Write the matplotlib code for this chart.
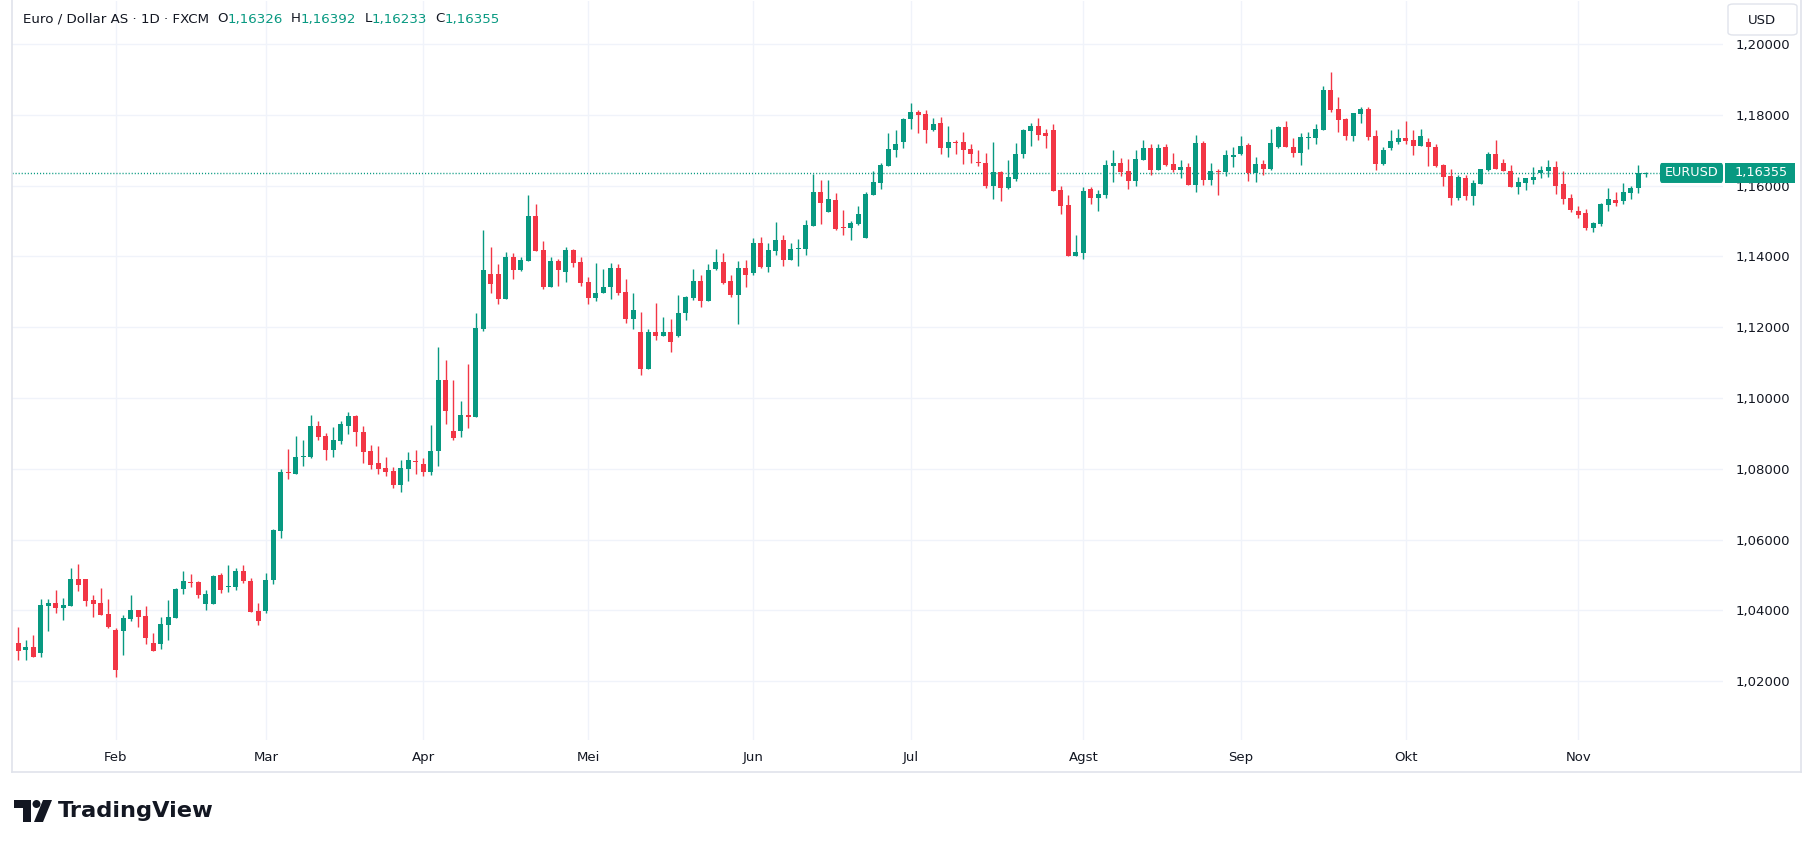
import matplotlib
matplotlib.use("Agg")
import matplotlib.pyplot as plt
import matplotlib.patches as mpatches
from matplotlib.transforms import blended_transform_factory
import numpy as np

# EUR/USD harian (FXCM), 15 Jan - 14 Nov 2025
opens = [1.0307, 1.0287, 1.0297, 1.0278, 1.0412, 1.0422, 1.0407, 1.0412, 1.0489, 1.0489,
         1.0428, 1.0420, 1.0389, 1.0344, 1.0342, 1.0376, 1.0400, 1.0383, 1.0308, 1.0306,
         1.0359, 1.0378, 1.0460, 1.0481, 1.0481, 1.0418, 1.0418, 1.0501, 1.0467, 1.0465,
         1.0511, 1.0483, 1.0398, 1.0399, 1.0485, 1.0624, 1.0791, 1.0786, 1.0832, 1.0834,
         1.0922, 1.0891, 1.0852, 1.0877, 1.0922, 1.0948, 1.0905, 1.0851, 1.0817, 1.0803,
         1.0794, 1.0754, 1.0800, 1.0820, 1.0814, 1.0792, 1.0849, 1.1052, 1.0907, 1.0906,
         1.0953, 1.0945, 1.1196, 1.1351, 1.1351, 1.1279, 1.1399, 1.1360, 1.1388, 1.1515,
         1.1419, 1.1312, 1.1388, 1.1357, 1.1419, 1.1385, 1.1328, 1.1283, 1.1297, 1.1312,
         1.1368, 1.1300, 1.1224, 1.1185, 1.1081, 1.1185, 1.1174, 1.1185, 1.1176, 1.1239,
         1.1281, 1.1329, 1.1275, 1.1363, 1.1383, 1.1329, 1.1290, 1.1366, 1.1352, 1.1439,
         1.1369, 1.1414, 1.1445, 1.1391, 1.1420, 1.1420, 1.1485, 1.1581, 1.1524, 1.1560,
         1.1481, 1.1479, 1.1492, 1.1452, 1.1574, 1.1608, 1.1656, 1.1699, 1.1724, 1.1787,
         1.1807, 1.1801, 1.1756, 1.1778, 1.1707, 1.1724, 1.1722, 1.1702, 1.1666, 1.1665,
         1.1600, 1.1639, 1.1594, 1.1619, 1.1688, 1.1753, 1.1767, 1.1747, 1.1756, 1.1588,
         1.1546, 1.1401, 1.1409, 1.1591, 1.1566, 1.1574, 1.1656, 1.1665, 1.1642, 1.1614,
         1.1673, 1.1707, 1.1645, 1.1710, 1.1662, 1.1645, 1.1651, 1.1602, 1.1719, 1.1617,
         1.1642, 1.1637, 1.1682, 1.1690, 1.1714, 1.1636, 1.1662, 1.1648, 1.1708, 1.1764,
         1.1710, 1.1693, 1.1734, 1.1733, 1.1758, 1.1869, 1.1815, 1.1787, 1.1741, 1.1801,
         1.1815, 1.1739, 1.1662, 1.1705, 1.1724, 1.1733, 1.1730, 1.1713, 1.1722, 1.1710,
         1.1657, 1.1628, 1.1564, 1.1620, 1.1570, 1.1603, 1.1645, 1.1688, 1.1665, 1.1642,
         1.1597, 1.1608, 1.1617, 1.1634, 1.1642, 1.1651, 1.1603, 1.1566, 1.1529, 1.1521,
         1.1481, 1.1490, 1.1546, 1.1558, 1.1555, 1.1580, 1.1592, 1.16326]
highs = [1.0352, 1.0316, 1.0330, 1.0433, 1.0433, 1.0456, 1.0436, 1.0520, 1.0531, 1.0489,
         1.0442, 1.0464, 1.0433, 1.0350, 1.0387, 1.0442, 1.0400, 1.0411, 1.0336, 1.0380,
         1.0428, 1.0464, 1.0512, 1.0503, 1.0484, 1.0456, 1.0500, 1.0506, 1.0529, 1.0520,
         1.0529, 1.0491, 1.0421, 1.0504, 1.0629, 1.0800, 1.0857, 1.0891, 1.0880, 1.0951,
         1.0934, 1.0900, 1.0917, 1.0934, 1.0960, 1.0951, 1.0922, 1.0866, 1.0863, 1.0834,
         1.0806, 1.0826, 1.0848, 1.0854, 1.0831, 1.0924, 1.1145, 1.1108, 1.1052, 1.0992,
         1.1097, 1.1241, 1.1475, 1.1425, 1.1379, 1.1413, 1.1410, 1.1399, 1.1574, 1.1549,
         1.1442, 1.1399, 1.1393, 1.1425, 1.1422, 1.1399, 1.1343, 1.1382, 1.1365, 1.1382,
         1.1379, 1.1337, 1.1295, 1.1244, 1.1196, 1.1267, 1.1230, 1.1222, 1.1290, 1.1287,
         1.1363, 1.1346, 1.1377, 1.1420, 1.1408, 1.1346, 1.1386, 1.1391, 1.1451, 1.1456,
         1.1437, 1.1496, 1.1459, 1.1439, 1.1448, 1.1502, 1.1632, 1.1615, 1.1615, 1.1580,
         1.1531, 1.1500, 1.1543, 1.1583, 1.1642, 1.1665, 1.1747, 1.1756, 1.1790, 1.1832,
         1.1812, 1.1812, 1.1790, 1.1793, 1.1767, 1.1730, 1.1750, 1.1716, 1.1699, 1.1693,
         1.1722, 1.1642, 1.1673, 1.1719, 1.1761, 1.1776, 1.1790, 1.1761, 1.1773, 1.1600,
         1.1574, 1.1461, 1.1597, 1.1597, 1.1588, 1.1671, 1.1699, 1.1679, 1.1676, 1.1699,
         1.1730, 1.1716, 1.1716, 1.1716, 1.1693, 1.1673, 1.1665, 1.1744, 1.1727, 1.1665,
         1.1648, 1.1699, 1.1710, 1.1739, 1.1720, 1.1682, 1.1671, 1.1761, 1.1767, 1.1781,
         1.1733, 1.1747, 1.1750, 1.1775, 1.1880, 1.1920, 1.1849, 1.1792, 1.1804, 1.1821,
         1.1821, 1.1756, 1.1708, 1.1756, 1.1761, 1.1781, 1.1758, 1.1761, 1.1733, 1.1716,
         1.1662, 1.1648, 1.1631, 1.1631, 1.1617, 1.1648, 1.1696, 1.1730, 1.1676, 1.1657,
         1.1623, 1.1620, 1.1651, 1.1654, 1.1671, 1.1668, 1.1640, 1.1577, 1.1543, 1.1535,
         1.1498, 1.1552, 1.1592, 1.1583, 1.1606, 1.1600, 1.1657, 1.16392]
lows = [1.0259, 1.0260, 1.0267, 1.0267, 1.0342, 1.0393, 1.0372, 1.0412, 1.0454, 1.0412,
        1.0381, 1.0387, 1.0351, 1.0211, 1.0273, 1.0370, 1.0353, 1.0306, 1.0284, 1.0292,
        1.0317, 1.0378, 1.0446, 1.0465, 1.0434, 1.0401, 1.0418, 1.0450, 1.0453, 1.0456,
        1.0476, 1.0396, 1.0359, 1.0391, 1.0473, 1.0604, 1.0770, 1.0784, 1.0809, 1.0831,
        1.0881, 1.0826, 1.0834, 1.0871, 1.0897, 1.0863, 1.0817, 1.0800, 1.0786, 1.0780,
        1.0746, 1.0734, 1.0766, 1.0786, 1.0778, 1.0781, 1.0807, 1.0925, 1.0880, 1.0889,
        1.0914, 1.0945, 1.1188, 1.1297, 1.1264, 1.1279, 1.1335, 1.1358, 1.1388, 1.1416,
        1.1309, 1.1312, 1.1317, 1.1328, 1.1371, 1.1317, 1.1266, 1.1275, 1.1295, 1.1280,
        1.1292, 1.1213, 1.1196, 1.1066, 1.1081, 1.1165, 1.1174, 1.1131, 1.1171, 1.1219,
        1.1278, 1.1256, 1.1275, 1.1360, 1.1323, 1.1284, 1.1210, 1.1312, 1.1346, 1.1366,
        1.1357, 1.1405, 1.1372, 1.1389, 1.1374, 1.1405, 1.1485, 1.1490, 1.1524, 1.1475,
        1.1461, 1.1446, 1.1489, 1.1452, 1.1574, 1.1591, 1.1654, 1.1682, 1.1707, 1.1761,
        1.1747, 1.1719, 1.1753, 1.1688, 1.1682, 1.1690, 1.1662, 1.1665, 1.1654, 1.1594,
        1.1563, 1.1557, 1.1591, 1.1614, 1.1679, 1.1713, 1.1730, 1.1705, 1.1585, 1.1520,
        1.1401, 1.1401, 1.1392, 1.1549, 1.1529, 1.1566, 1.1611, 1.1628, 1.1591, 1.1600,
        1.1671, 1.1631, 1.1645, 1.1656, 1.1639, 1.1622, 1.1602, 1.1583, 1.1602, 1.1602,
        1.1574, 1.1628, 1.1651, 1.1685, 1.1614, 1.1609, 1.1631, 1.1645, 1.1705, 1.1708,
        1.1682, 1.1659, 1.1702, 1.1716, 1.1758, 1.1809, 1.1750, 1.1730, 1.1727, 1.1778,
        1.1730, 1.1645, 1.1657, 1.1699, 1.1716, 1.1716, 1.1685, 1.1713, 1.1654, 1.1651,
        1.1600, 1.1544, 1.1559, 1.1559, 1.1544, 1.1603, 1.1642, 1.1648, 1.1640, 1.1597,
        1.1577, 1.1586, 1.1603, 1.1620, 1.1625, 1.1577, 1.1549, 1.1524, 1.1507, 1.1473,
        1.1470, 1.1487, 1.1529, 1.1541, 1.1549, 1.1563, 1.1580, 1.16233]
closes = [1.0286, 1.0297, 1.0267, 1.0414, 1.0422, 1.0407, 1.0414, 1.0489, 1.0471, 1.0425,
          1.0418, 1.0387, 1.0353, 1.0231, 1.0378, 1.0400, 1.0381, 1.0323, 1.0284, 1.0361,
          1.0380, 1.0461, 1.0484, 1.0478, 1.0443, 1.0445, 1.0498, 1.0456, 1.0470, 1.0511,
          1.0482, 1.0396, 1.0371, 1.0486, 1.0626, 1.0791, 1.0787, 1.0834, 1.0837, 1.0922,
          1.0889, 1.0852, 1.0880, 1.0925, 1.0948, 1.0903, 1.0848, 1.0811, 1.0800, 1.0791,
          1.0754, 1.0803, 1.0826, 1.0818, 1.0792, 1.0851, 1.1052, 1.0962, 1.0886, 1.0953,
          1.0945, 1.1198, 1.1360, 1.1321, 1.1279, 1.1399, 1.1360, 1.1391, 1.1515, 1.1416,
          1.1312, 1.1388, 1.1360, 1.1419, 1.1382, 1.1326, 1.1283, 1.1297, 1.1314, 1.1368,
          1.1297, 1.1224, 1.1247, 1.1081, 1.1185, 1.1174, 1.1185, 1.1159, 1.1241, 1.1284,
          1.1329, 1.1275, 1.1360, 1.1383, 1.1326, 1.1290, 1.1366, 1.1346, 1.1439, 1.1369,
          1.1417, 1.1445, 1.1391, 1.1420, 1.1422, 1.1488, 1.1581, 1.1550, 1.1561, 1.1478,
          1.1479, 1.1495, 1.1520, 1.1577, 1.1611, 1.1659, 1.1702, 1.1716, 1.1787, 1.1807,
          1.1798, 1.1756, 1.1773, 1.1707, 1.1724, 1.1719, 1.1699, 1.1688, 1.1664, 1.1600,
          1.1639, 1.1594, 1.1625, 1.1690, 1.1756, 1.1767, 1.1744, 1.1739, 1.1585, 1.1543,
          1.1401, 1.1412, 1.1585, 1.1566, 1.1577, 1.1659, 1.1665, 1.1639, 1.1614, 1.1676,
          1.1707, 1.1645, 1.1705, 1.1659, 1.1645, 1.1651, 1.1602, 1.1719, 1.1617, 1.1642,
          1.1637, 1.1685, 1.1685, 1.1713, 1.1636, 1.1662, 1.1648, 1.1719, 1.1764, 1.1708,
          1.1693, 1.1736, 1.1736, 1.1761, 1.1869, 1.1812, 1.1784, 1.1741, 1.1804, 1.1815,
          1.1736, 1.1662, 1.1699, 1.1727, 1.1733, 1.1727, 1.1713, 1.1741, 1.1708, 1.1654,
          1.1625, 1.1564, 1.1623, 1.1570, 1.1606, 1.1648, 1.1688, 1.1648, 1.1640, 1.1597,
          1.1611, 1.1620, 1.1625, 1.1645, 1.1651, 1.1600, 1.1563, 1.1532, 1.1518, 1.1481,
          1.1493, 1.1549, 1.1563, 1.1552, 1.1583, 1.1594, 1.1634, 1.16355]

month_labels = ["Feb", "Mar", "Apr", "Mei", "Jun", "Jul", "Agst", "Sep", "Okt", "Nov"]
month_idx = [13, 33, 54, 76, 98, 119, 142, 163, 185, 208]
price_ticks = [1.02, 1.04, 1.06, 1.08, 1.10, 1.12, 1.14, 1.16, 1.18, 1.20]
last_price = 1.16355

UP = "#089981"
DOWN = "#F23645"
TXT = "#131722"
GRID = "#F0F3FA"
BORDER = "#E0E3EB"

W, H = 1813, 847
fig = plt.figure(figsize=(W / 100, H / 100), dpi=100)
fig.patch.set_facecolor("white")


def fx(x):
    return x / W


def fy(y):
    return 1 - y / H


ax = fig.add_axes([fx(12), fy(740), fx(1723) - fx(12), fy(1) - fy(740)])
for s in ax.spines.values():
    s.set_visible(False)

o = np.array(opens)
h = np.array(highs)
l = np.array(lows)
c = np.array(closes)
x = np.arange(len(o))
cols = np.where(c >= o, UP, DOWN)

ax.vlines(x, l, h, colors=cols, linewidth=1.0, zorder=3)
body_lo = np.minimum(o, c)
body_h = np.maximum(np.abs(c - o), 0.0003)
ax.bar(x, body_h, bottom=body_lo, width=0.7, color=cols, linewidth=0, zorder=4)

ax.set_xlim(-0.84, 227.3)
ax.set_ylim(1.00336, 1.21213)

ax.set_yticks(price_ticks)
ax.set_yticklabels([f"{p:.5f}".replace(".", ",") for p in price_ticks])
ax.yaxis.tick_right()
ax.set_xticks(month_idx)
ax.set_xticklabels(month_labels)
ax.tick_params(axis="both", length=0, labelsize=9.5, labelcolor=TXT)
ax.tick_params(axis="y", pad=9)
ax.tick_params(axis="x", pad=8)
ax.grid(True, color=GRID, linewidth=1.0, zorder=0)
ax.set_axisbelow(True)

# garis harga terakhir
ax.axhline(last_price, color=UP, linewidth=1.0, linestyle=(0, (0.8, 1.4)), zorder=2)
bt = blended_transform_factory(fig.transFigure, ax.transData)
bh = 20 * (1.21213 - 1.00336) / 739
ax.add_patch(mpatches.FancyBboxPatch((fx(1660), last_price - bh / 2), fx(1723) - fx(1660), bh,
                                     boxstyle="round,pad=0,rounding_size=0.001", transform=bt,
                                     facecolor=UP, edgecolor="none", clip_on=False, zorder=10))
ax.add_patch(mpatches.Rectangle((fx(1725), last_price - bh / 2), fx(1795) - fx(1725), bh,
                                transform=bt, facecolor=UP, edgecolor="none", clip_on=False, zorder=10))
ax.text(fx(1691.5), last_price, "EURUSD", transform=bt, ha="center", va="center",
        color="white", fontsize=9.2, zorder=11, clip_on=False)
ax.text(fx(1761), last_price, "1,16355", transform=bt, ha="center", va="center",
        color="white", fontsize=9.3, zorder=11, clip_on=False)

# bingkai luar
fig.add_artist(plt.Line2D([fx(12), fx(12)], [fy(772), 1], color=BORDER, linewidth=1.2))
fig.add_artist(plt.Line2D([fx(12), fx(1801)], [fy(772), fy(772)], color=BORDER, linewidth=1.2))
fig.add_artist(plt.Line2D([fx(1801), fx(1801)], [fy(772), 1], color=BORDER, linewidth=1.2))

# kotak USD
fig.add_artist(mpatches.FancyBboxPatch((fx(1728), fy(35)), fx(1797) - fx(1728), fy(4) - fy(35),
                                       boxstyle="round,pad=0,rounding_size=0.003",
                                       transform=fig.transFigure, facecolor="white",
                                       edgecolor=BORDER, linewidth=1.0, zorder=20))
fig.text(fx(1762), fy(20), "USD", ha="center", va="center", color=TXT, fontsize=9.5, zorder=21)

# judul
renderer = fig.canvas.get_renderer()
pieces = [("Euro / Dollar AS · 1D · FXCM", TXT, 8), ("O", TXT, 0), ("1,16326", UP, 8),
          ("H", TXT, 0), ("1,16392", UP, 8), ("L", TXT, 0), ("1,16233", UP, 8),
          ("C", TXT, 0), ("1,16355", UP, 0)]
xpos = 23
for s, col, gap in pieces:
    t = fig.text(fx(xpos), fy(19), s, color=col, fontsize=9.6, ha="left", va="center")
    xpos += t.get_window_extent(renderer).width + gap

# logo TradingView
logo = "#131722"
fig.add_artist(mpatches.Polygon([(fx(14), fy(800)), (fx(31), fy(800)), (fx(31), fy(822)),
                                 (fx(23), fy(822)), (fx(23), fy(808)), (fx(14), fy(808))],
                                closed=True, transform=fig.transFigure, facecolor=logo, edgecolor="none"))
fig.add_artist(mpatches.Ellipse((fx(36.5), fy(804)), 8 / W, 8 / H, transform=fig.transFigure,
                                facecolor=logo, edgecolor="none"))
fig.add_artist(mpatches.Polygon([(fx(34), fy(822)), (fx(43), fy(822)), (fx(52), fy(800)),
                                 (fx(43), fy(800))],
                                closed=True, transform=fig.transFigure, facecolor=logo, edgecolor="none"))
fig.text(fx(58), fy(811), "TradingView", ha="left", va="center", color=logo,
         fontsize=16.2, fontweight="bold")

fig.savefig("out.png", dpi=100, facecolor="white")
